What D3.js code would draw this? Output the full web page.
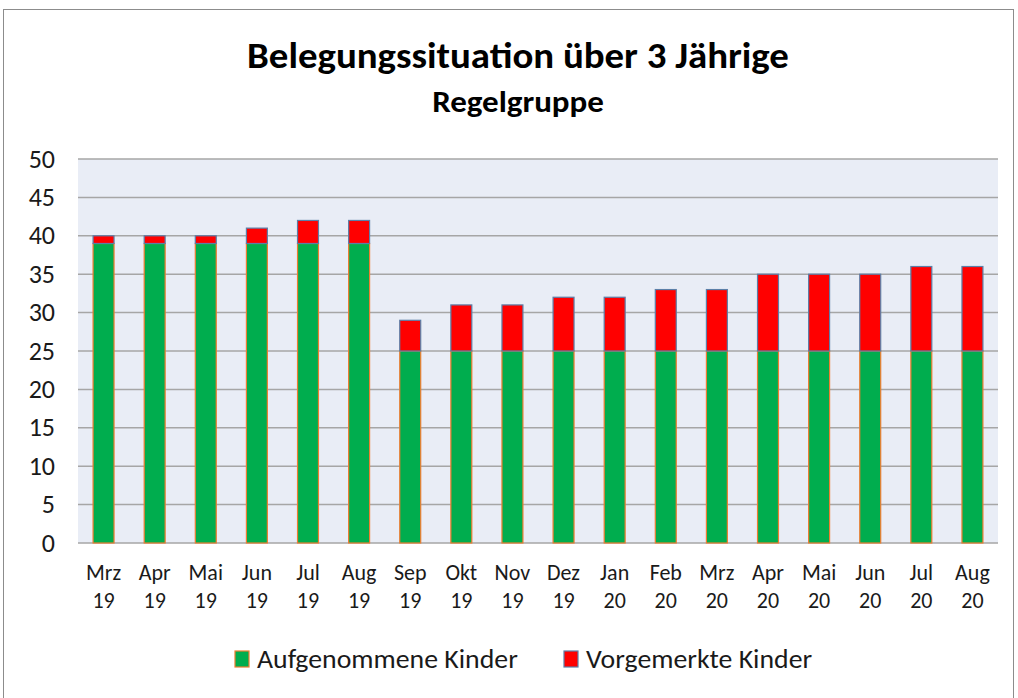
<!DOCTYPE html>
<html>
<head>
<meta charset="utf-8">
<script src="https://cdn.jsdelivr.net/npm/d3@7"></script>
<style>
  body { margin: 0; background: #fff; }
  text { font-family: Carlito, Calibri, Lato, sans-serif; }
</style>
</head>
<body>
<svg id="chart" width="1018" height="698"></svg>
<script>
// data
const months = ["Mrz", "Apr", "Mai", "Jun", "Jul", "Aug", "Sep", "Okt", "Nov", "Dez", "Jan", "Feb", "Mrz", "Apr", "Mai", "Jun", "Jul", "Aug"];
const years = ["19", "19", "19", "19", "19", "19", "19", "19", "19", "19", "20", "20", "20", "20", "20", "20", "20", "20"];
const aufgenommen = [39, 39, 39, 39, 39, 39, 25, 25, 25, 25, 25, 25, 25, 25, 25, 25, 25, 25];
const vorgemerkt = [1, 1, 1, 2, 3, 3, 4, 6, 6, 7, 7, 8, 8, 10, 10, 10, 11, 11];
const yTicks = [0, 5, 10, 15, 20, 25, 30, 35, 40, 45, 50];
const seriesNames = ["Aufgenommene Kinder", "Vorgemerkte Kinder"];

const svg = d3.select("#chart");

// outer chart border
svg.append("rect")
  .attr("x", 3.5).attr("y", 9.5)
  .attr("width", 1010).attr("height", 700)
  .attr("fill", "#fff")
  .attr("stroke", "#8c8c8c");

const plotLeft = 78, plotRight = 998, plotTop = 159, plotBottom = 543;

const idx = d3.range(months.length);
const x = d3.scaleBand().domain(idx).range([plotLeft, plotRight]).paddingInner(0.59).paddingOuter(0.295);
const y = d3.scaleLinear().domain([0, 50]).range([plotBottom, plotTop]);

// plot background
svg.append("rect")
  .attr("x", plotLeft).attr("y", plotTop)
  .attr("width", plotRight - plotLeft).attr("height", plotBottom - plotTop)
  .attr("fill", "#e9edf6");

// grid lines
svg.append("g")
  .selectAll("line")
  .data(yTicks)
  .enter()
  .append("line")
  .attr("x1", plotLeft).attr("x2", plotRight)
  .attr("y1", d => y(d)).attr("y2", d => y(d))
  .attr("stroke", "#a6a6a6")
  .attr("stroke-width", 1.5);

// y labels
svg.append("g")
  .selectAll("text")
  .data(yTicks)
  .enter()
  .append("text")
  .attr("x", 55)
  .attr("y", d => y(d) + 8.5)
  .attr("text-anchor", "end")
  .attr("font-size", 26)
  .attr("fill", "#1a1a1a")
  .text(d => d);

// stacked bars
const stack = idx.map(i => ({ i: i, a: aufgenommen[i], v: vorgemerkt[i] }));

svg.append("g")
  .selectAll("rect")
  .data(stack)
  .enter()
  .append("rect")
  .attr("x", d => x(d.i))
  .attr("width", x.bandwidth())
  .attr("y", d => y(d.a))
  .attr("height", d => y(0) - y(d.a))
  .attr("fill", "#00ad4e")
  .attr("stroke", "#ed7d31")
  .attr("stroke-width", 1.2);

svg.append("g")
  .selectAll("rect")
  .data(stack)
  .enter()
  .append("rect")
  .attr("x", d => x(d.i))
  .attr("width", x.bandwidth())
  .attr("y", d => y(d.a + d.v))
  .attr("height", d => y(d.a) - y(d.a + d.v))
  .attr("fill", "#ff0000")
  .attr("stroke", "#5b7fa8")
  .attr("stroke-width", 1.2);

// x labels
const xl = svg.append("g")
  .selectAll("text")
  .data(idx)
  .enter()
  .append("text")
  .attr("text-anchor", "middle")
  .attr("font-size", 22)
  .attr("fill", "#1a1a1a");
xl.append("tspan")
  .attr("x", d => x(d) + x.bandwidth() / 2)
  .attr("y", 580)
  .text(d => months[d]);
xl.append("tspan")
  .attr("x", d => x(d) + x.bandwidth() / 2)
  .attr("y", 608)
  .text(d => years[d]);

// title
svg.append("text")
  .attr("transform", "translate(518,68) scale(1.05,1)")
  .attr("text-anchor", "middle")
  .attr("font-size", 37)
  .attr("font-weight", "bold")
  .attr("fill", "#000")
  .text("Belegungssituation über 3 Jährige");
svg.append("text")
  .attr("transform", "translate(518,112) scale(1.1,1)")
  .attr("text-anchor", "middle")
  .attr("font-size", 30)
  .attr("font-weight", "bold")
  .attr("fill", "#000")
  .text("Regelgruppe");

// legend
const legendX = [235, 564];
const legendFill = ["#00ad4e", "#ff0000"];
const legendStroke = ["#ed7d31", "#5b7fa8"];
const lg = svg.append("g")
  .selectAll("g")
  .data(seriesNames)
  .enter()
  .append("g")
  .attr("transform", (d, i) => "translate(" + legendX[i] + ",651)");
lg.append("rect")
  .attr("width", 14).attr("height", 16)
  .attr("fill", (d, i) => legendFill[i])
  .attr("stroke", (d, i) => legendStroke[i])
  .attr("stroke-width", 1.2);
lg.append("text")
  .attr("transform", "translate(22,17) scale(1.07,1)")
  .attr("font-size", 26)
  .attr("fill", "#1a1a1a")
  .text(d => d);
</script>
</body>
</html>
